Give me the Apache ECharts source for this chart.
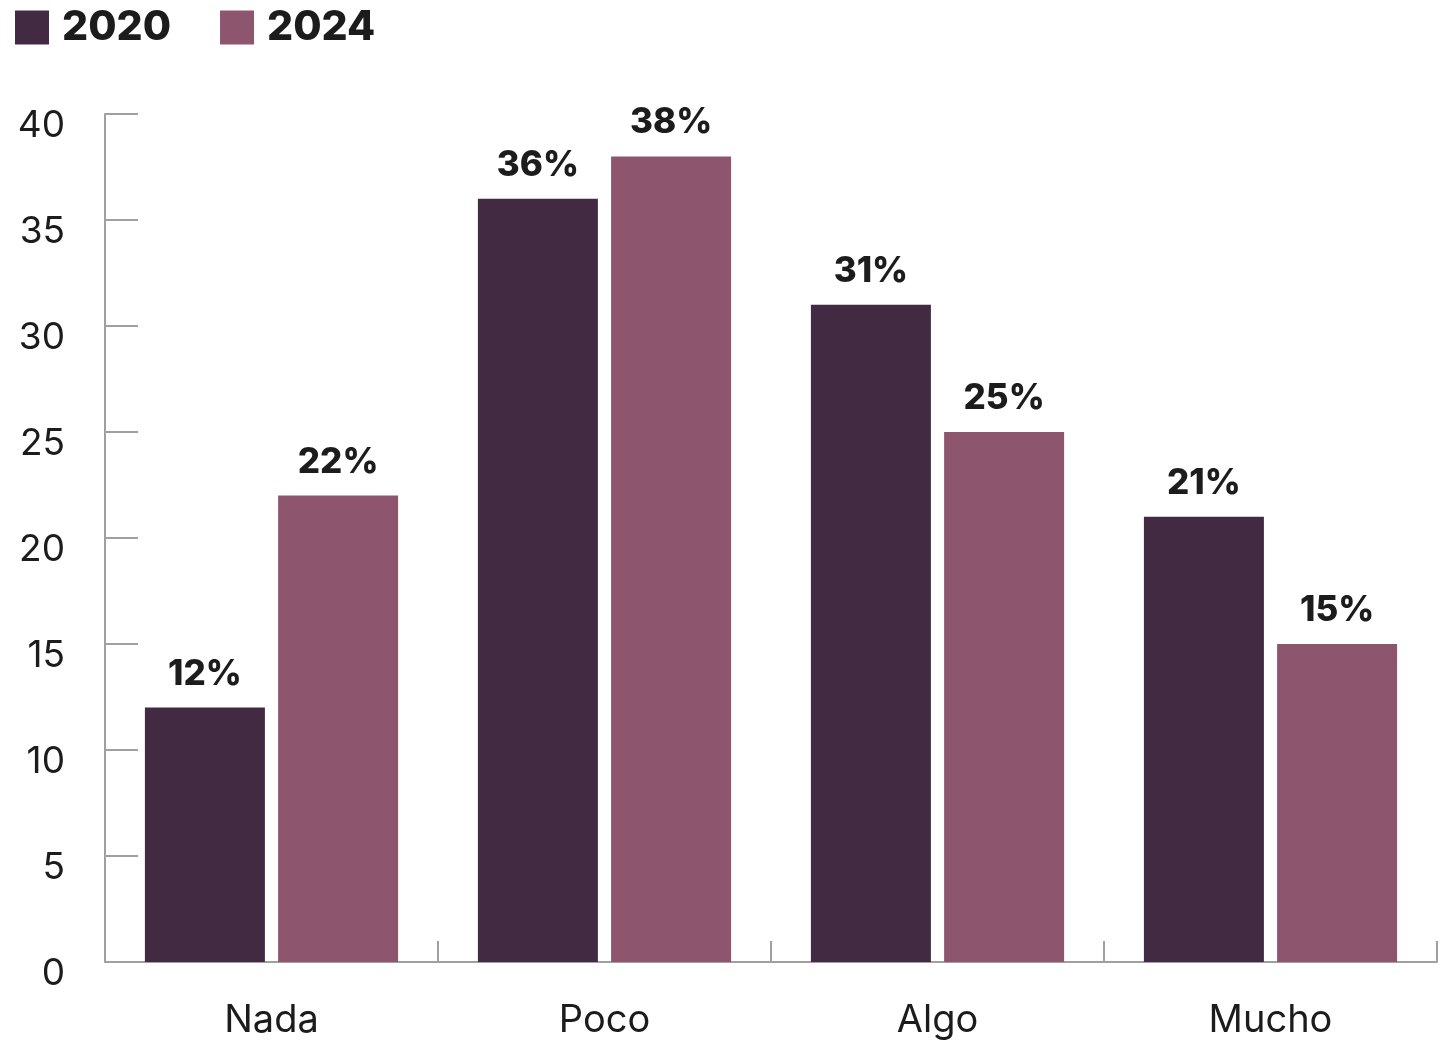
<!DOCTYPE html>
<html><head><meta charset="utf-8">
<script src="https://cdn.jsdelivr.net/npm/echarts@6/dist/echarts.min.js"></script>
<style>html,body{margin:0;padding:0;background:#fff}#c{width:1440px;height:1040px}</style>
</head><body><div id="c"></div>
<script>
const categories = ['Nada', 'Poco', 'Algo', 'Mucho'];
const seriesNames = ['2020', '2024'];
const values2020 = [12, 36, 31, 21];
const values2024 = [22, 38, 25, 15];
const yTicks = { min: 0, max: 40, interval: 5 };

const chart = echarts.init(document.getElementById('c'));
const font = 'Inter, "Open Sans", sans-serif';
const labelStyle = {
  show: true, position: 'top', distance: 16,
  formatter: p => p.value + '%',
  fontFamily: font, fontWeight: 800, fontSize: 35, color: '#1c1c1c'
};
chart.setOption({
  animation: false,
  backgroundColor: '#ffffff',
  legend: {
    left: 10, top: 2, icon: 'rect', itemWidth: 34, itemHeight: 34, itemGap: 49,
    textStyle: { fontFamily: font, fontWeight: 800, fontSize: 41, color: '#1c1c1c', padding: [0, 0, 0, 8] },
    data: seriesNames
  },
  grid: { left: 105, right: 3, top: 114, bottom: 78, containLabel: false },
  xAxis: {
    type: 'category', data: categories,
    axisLine: { lineStyle: { color: '#a0a0a0', width: 2 } },
    axisTick: { show: true, inside: true, length: 21, lineStyle: { color: '#a0a0a0', width: 2 } },
    axisLabel: { fontFamily: font, fontSize: 38, color: '#1c1c1c', margin: 40 }
  },
  yAxis: {
    type: 'value', min: yTicks.min, max: yTicks.max, interval: yTicks.interval,
    axisLine: { show: true, lineStyle: { color: '#a0a0a0', width: 2 } },
    axisTick: { show: true, inside: true, length: 33, lineStyle: { color: '#a0a0a0', width: 2 } },
    splitLine: { show: false },
    axisLabel: { fontFamily: font, fontSize: 37, color: '#1c1c1c', margin: 40, verticalAlign: 'top', lineHeight: 24 }
  },
  series: [
    { name: seriesNames[0], type: 'bar', data: values2020, barWidth: 120, barGap: '11%',
      itemStyle: { color: '#412a42' }, label: labelStyle },
    { name: seriesNames[1], type: 'bar', data: values2024, barWidth: 120, barGap: '11%',
      itemStyle: { color: '#8e566e' }, label: labelStyle }
  ]
});
</script></body></html>
